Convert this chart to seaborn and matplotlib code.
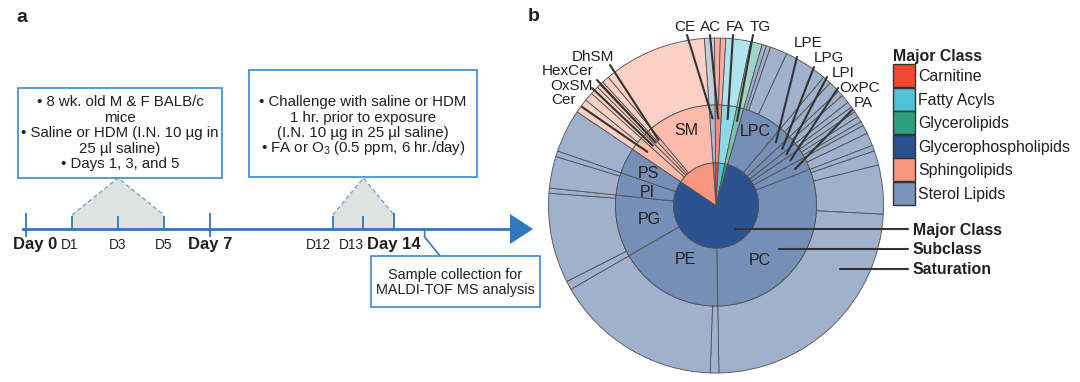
import numpy as np
import pandas as pd
import seaborn as sns
import matplotlib.pyplot as plt
import matplotlib.colors as mcolors
from matplotlib.patches import Rectangle, Patch

# ---------------- panel a: exposure timeline ----------------
tick_days = [0, 1, 3, 5, 7, 12, 13, 14]
tick_labels = ["Day 0", "D1", "D3", "D5", "Day 7", "D12", "D13", "Day 14"]
sens_days = [1, 3, 5]
chal_days = [12, 13, 14]
collect_day = 15

box_sens = ["• 8 wk. old M & F BALB/c", "mice", "• Saline or HDM (I.N. 10 µg in",
            "25 µl saline)", "• Days 1, 3, and 5"]
box_chal = ["• Challenge with saline or HDM", "1 hr. prior to exposure",
            "(I.N. 10 µg in 25 µl saline)", "• FA or O$_3$ (0.5 ppm, 6 hr./day)"]
box_coll = ["Sample collection for", "MALDI-TOF MS analysis"]

# ---------------- panel b: lipid sunburst ----------------
major_classes = ["Carnitine", "Fatty Acyls", "Glycerolipids",
                 "Glycerophospholipids", "Sphingolipids", "Sterol Lipids"]
major_colors = ["#f24a2e", "#4fc3d6", "#2e9e80", "#2b5290", "#f8977d", "#7a95bb"]

subclasses = ["CE", "AC", "FA", "TG",
              "LPC", "LPE", "LPG", "LPI", "OxPC", "PA", "PC", "PE", "PG", "PI", "PS",
              "Cer", "OxSM", "HexCer", "DhSM", "SM"]
subclass_major = (["Sterol Lipids", "Carnitine", "Fatty Acyls", "Glycerolipids"]
                  + ["Glycerophospholipids"] * 11 + ["Sphingolipids"] * 5)
# share of each saturation group inside a subclass (outer ring)
saturation_shares = [[3.5], [2.0, 1.9], [8.6], [4.0],
                     [1.5, 1.5, 6, 15], [3, 4], [2, 3], [2, 2], [2, 2, 1.5], [3, 4.5],
                     [2, 5, 17, 86], [3, 58], [3, 31.2, 1.8], [11, 2], [15],
                     [5, 3], [3], [1.2, 1.3], [2.5], [36]]

INK = "#231f20"
BLUE = "#2e78bf"
BOX_EDGE = "#4a90d9"
DASH = "#6fa8dc"
GREY = "#e0e2e1"
EDGE = "#4f4f4f"

# sunburst geometry (pixels)
CX, CY, R_PX = 716, 205.5, 167.5
R_IN, R_MID = 0.254, 0.6


def set_config():
    sns.set_theme(style="white")
    plt.rcParams["font.family"] = ["Liberation Sans", "DejaVu Sans"]
    plt.rcParams["mathtext.fontset"] = "custom"
    plt.rcParams["mathtext.rm"] = "Liberation Sans"
    plt.rcParams["mathtext.default"] = "regular"
    plt.rcParams["text.color"] = INK


def tint(c, f):
    rgb = np.array(mcolors.to_rgb(c))
    return tuple(rgb + (1 - rgb) * f)


# schematic timeline: day -> slot, 46 px per slot
SCALE_DAYS = [-1, 0, 1, 5, 7, 12, 14, 20]
SCALE_SLOTS = [-1, 0, 1, 3, 4, 6.67, 8, 12]


def fwd(d):
    return np.interp(d, SCALE_DAYS, SCALE_SLOTS)


def inv(s):
    return np.interp(s, SCALE_SLOTS, SCALE_DAYS)


def px_day(x):
    return float(inv((x - 26) / 46))


def draw_timeline(ax):
    ax.set_xscale("function", functions=(fwd, inv))
    ax.set_xlim(px_day(22), px_day(545))
    ax.set_ylim(382, 0)
    ax.axis("off")
    axis_y = 229

    # shaded exposure windows
    for d0, dm, d1 in (sens_days, chal_days):
        ax.fill([d0, d0, dm, d1, d1], [axis_y, 215, 178, 215, axis_y], color=GREY, lw=0, zorder=1)
        ax.plot([d0, dm, d1], [215, 178, 215], color=DASH, lw=1, ls=(0, (3, 2)), zorder=2)

    ax.plot([px_day(22), px_day(512)], [axis_y, axis_y], color=BLUE, lw=2, zorder=3)
    ax.fill([px_day(510), px_day(533), px_day(510)], [214, axis_y, 244], color=BLUE, lw=0, zorder=3)

    shift = {"Day 0": 9, "D1": -2, "D12": -14, "D13": -12}
    for d, lab in zip(tick_days, tick_labels):
        major = lab.startswith("Day")
        top = 213 if major else 216
        bottom = 237 if (major and d < 14) else axis_y
        ax.plot([d, d], [top, bottom], color=BLUE, lw=1.3, zorder=3, solid_capstyle="butt")
        ax.annotate(lab, (d, 249), xytext=(shift.get(lab, 0), 0), textcoords="offset pixels",
                    ha="center", va="baseline", fontsize=12 if major else 9.9,
                    fontweight="bold" if major else "normal")

    # sample collection
    ax.plot([collect_day, collect_day, px_day(440)], [axis_y, 237, 256], color=BLUE, lw=1.2, zorder=3)


def draw_boxes(ax):
    boxes = [((18, 88, 204, 90), box_sens, 120, 101, 15.5, 10.8),
             ((249, 70, 228, 107), box_chal, 363, 101, 15.4, 10.8),
             ((371, 256, 169, 51), box_coll, 455, 274, 15, 10.4)]
    for (x, y, w, h), lines, tx, ty, step, fs in boxes:
        ax.add_patch(Rectangle((x, y), w, h, facecolor="white", edgecolor=BOX_EDGE, lw=1.3, zorder=4))
        for i, line in enumerate(lines):
            ax.text(tx, ty + i * step + 5.2, line, ha="center", va="baseline", fontsize=fs, zorder=5)


def to_b(x, y):
    return (x - CX) / R_PX, (CY - y) / R_PX


def draw_sunburst(ax):
    rows = []
    for sub, major, shares in zip(subclasses, subclass_major, saturation_shares):
        for s in shares:
            rows.append((major, sub, s))
    seg = pd.DataFrame(rows, columns=["major", "subclass", "share"])
    sub_tot = seg.groupby("subclass", sort=False)["share"].sum()
    major_tot = seg.groupby("major", sort=False)["share"].sum()
    sub_major = seg.drop_duplicates("subclass").set_index("subclass")["major"]
    color_of = dict(zip(major_classes, sns.color_palette(major_colors)))

    kw = dict(startangle=94, counterclock=False)
    ax.pie(seg["share"], radius=1.0, colors=[tint(color_of[m], 0.55) for m in seg["major"]],
           wedgeprops=dict(width=1.0 - R_MID, edgecolor=EDGE, linewidth=0.6), **kw)
    sub_w, _ = ax.pie(sub_tot, radius=R_MID,
                      colors=[tint(color_of[sub_major[s]], 0.35) for s in sub_tot.index],
                      wedgeprops=dict(width=R_MID - R_IN, edgecolor=EDGE, linewidth=0.6), **kw)
    ax.pie(major_tot, radius=R_IN, colors=[color_of[m] for m in major_tot.index],
           wedgeprops=dict(edgecolor=EDGE, linewidth=0.6), **kw)

    mid = {s: np.deg2rad((w.theta1 + w.theta2) / 2) for s, w in zip(sub_tot.index, sub_w)}

    ring_labels = {"SM": (0.48, 0), "LPC": (0.5, 0), "PS": (0.45, 1), "PI": (0.42, 2),
                   "PG": (0.41, 0), "PE": (0.37, 0), "PC": (0.42, -17)}
    for name, (r, da) in ring_labels.items():
        a = mid[name] + np.deg2rad(da)
        ax.text(r * np.cos(a), r * np.sin(a), name, ha="center", va="center", fontsize=11.5)

    callouts = {
        "CE": ((685, 27), (687, 35)), "AC": ((711, 27), (710, 35)),
        "FA": ((735, 27), (733, 35)), "TG": ((760, 27), (753, 35)),
        "LPE": ((808, 43), (797, 57)), "LPG": ((829, 58), (814, 67)),
        "LPI": ((843, 73), (827, 77)), "OxPC": ((860, 88), (838, 88)),
        "PA": ((863, 103), (852, 110)),
        "DhSM": ((593, 57), (610, 65)), "HexCer": ((568, 71), (597, 80)),
        "OxSM": ((571, 86), (592, 88)), "Cer": ((564, 100), (582, 107)),
    }
    for name, (txy, sxy) in callouts.items():
        tx, ty = to_b(*txy)
        sx, sy = to_b(*sxy)
        a = mid[name]
        ax.plot([sx, 0.52 * np.cos(a)], [sy, 0.52 * np.sin(a)], color="#333333", lw=1.5,
                clip_on=False, zorder=6)
        ax.text(tx, ty, name, ha="center", va="center", fontsize=11, clip_on=False)

    ax.set_xlim(to_b(540, 0)[0], to_b(1080, 0)[0])
    ax.set_ylim(to_b(0, 382)[1], to_b(0, 0)[1])


def main():
    set_config()
    fig = plt.figure(figsize=(10.8, 3.82), dpi=100)

    ax_a = fig.add_axes([22 / 1080, 0, 523 / 1080, 1])
    draw_timeline(ax_a)

    ax_b = fig.add_axes([540 / 1080, 0, 540 / 1080, 1])
    draw_sunburst(ax_b)

    ax_o = fig.add_axes([0, 0, 1, 1])
    ax_o.set_xlim(0, 1080)
    ax_o.set_ylim(382, 0)
    ax_o.axis("off")
    draw_boxes(ax_o)

    ax_o.text(16, 21.5, "a", fontsize=14, fontweight="bold")
    ax_o.text(528, 21, "b", fontsize=14, fontweight="bold")

    # ring level annotations
    for name, y, x0 in (("Major Class", 229, 735), ("Subclass", 249, 779), ("Saturation", 269, 840)):
        ax_o.plot([x0, 908], [y, y], color="#333333", lw=1.5)
        ax_o.text(913, y + 5.5, name, fontsize=11.4, fontweight="bold", va="baseline")

    handles = [Patch(facecolor=c, edgecolor="#333333", linewidth=1.0) for c in major_colors]
    fig.legend(handles, major_classes, title="Major Class", loc="upper left",
               bbox_to_anchor=(893 / 1080, 1 - 49 / 382), frameon=False, fontsize=11.4,
               title_fontproperties={"weight": "bold", "size": 11.4}, alignment="left",
               handlelength=1.4, handleheight=1.86, handletextpad=0.2, labelspacing=0.03,
               borderpad=0, borderaxespad=0)

    fig.savefig("out.png", dpi=100)


if __name__ == "__main__":
    main()
